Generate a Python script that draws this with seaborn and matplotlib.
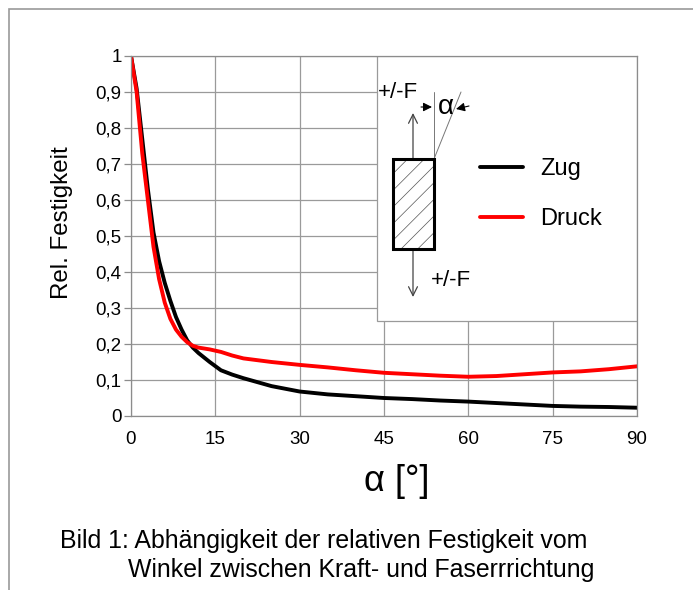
import numpy as np
import pandas as pd
import matplotlib
matplotlib.use("Agg")
import matplotlib.pyplot as plt
import seaborn as sns
from matplotlib.patches import Rectangle
from matplotlib.lines import Line2D

# ---- data ----
alpha_deg = [0, 1, 2, 3, 4, 5, 6, 7, 8, 9, 10, 11, 12, 14, 16, 18, 20, 25, 30,
             35, 40, 45, 50, 55, 60, 65, 70, 75, 80, 85, 90]
zug = [1.0, 0.91, 0.77, 0.63, 0.51, 0.43, 0.37, 0.32, 0.275, 0.24, 0.21, 0.19,
       0.175, 0.15, 0.127, 0.115, 0.105, 0.083, 0.068, 0.06, 0.055, 0.05, 0.047,
       0.043, 0.04, 0.036, 0.032, 0.028, 0.026, 0.025, 0.023]
druck = [1.0, 0.9, 0.73, 0.6, 0.47, 0.38, 0.315, 0.27, 0.24, 0.22, 0.205, 0.195,
         0.19, 0.185, 0.178, 0.168, 0.16, 0.15, 0.142, 0.135, 0.127, 0.12, 0.116,
         0.112, 0.109, 0.111, 0.116, 0.121, 0.124, 0.13, 0.138]
series_names = ["Zug", "Druck"]
x_ticks = [0, 15, 30, 45, 60, 75, 90]
y_ticks = [0, 0.1, 0.2, 0.3, 0.4, 0.5, 0.6, 0.7, 0.8, 0.9, 1.0]
y_tick_labels = ["0", "0,1", "0,2", "0,3", "0,4", "0,5", "0,6", "0,7", "0,8", "0,9", "1"]
x_label = "α [°]"
y_label = "Rel. Festigkeit"
caption_1 = "Bild 1: Abhängigkeit der relativen Festigkeit vom"
caption_2 = "Winkel zwischen Kraft- und Faserrrichtung"

sns.set_theme(style="white")
plt.rcParams["font.family"] = ["Liberation Sans", "DejaVu Sans"]
plt.rcParams["text.color"] = "black"
plt.rcParams["axes.labelcolor"] = "black"
plt.rcParams["hatch.linewidth"] = 0.5
plt.rcParams["hatch.color"] = "#555555"

W, H = 693, 590
fig = plt.figure(figsize=(W / 100, H / 100), dpi=100)
ax = fig.add_axes([131 / W, 1 - 416 / H, 506 / W, 360 / H])


def P(x, y):
    return (x / W, 1 - y / H)


n = len(alpha_deg)
df = pd.DataFrame({
    "alpha": alpha_deg * 2,
    "value": zug + druck,
    "Serie": ["Zug"] * n + ["Druck"] * n,
})
sns.lineplot(data=df, x="alpha", y="value", hue="Serie", hue_order=series_names,
             palette={"Zug": "black", "Druck": "#ff0000"}, linewidth=2.8,
             ax=ax, legend=False)

ax.set_xlim(0, 90)
ax.set_ylim(0, 1)
ax.set_xticks(x_ticks)
ax.set_xticklabels([str(t) for t in x_ticks])
ax.set_yticks(y_ticks)
ax.set_yticklabels(y_tick_labels)
ax.grid(True, color="#9a9a9a", lw=0.9)
ax.set_axisbelow(True)
for s in ax.spines.values():
    s.set_color("#8c8c8c")
    s.set_linewidth(0.9)
ax.tick_params(axis="y", length=5, width=0.9, color="#8c8c8c", pad=1.7,
               labelsize=13.5, labelcolor="black", left=True)
ax.tick_params(axis="x", length=0, pad=10.5, labelsize=13.5, labelcolor="black")

ax.set_xlabel(x_label, fontsize=26, color="black")
ax.set_ylabel(y_label, fontsize=17.4, color="black")
ax.xaxis.set_label_coords((397 - 131) / 506, (416 - 464) / 360)
ax.yaxis.set_label_coords((73 - 131) / 506, (416 - 223) / 360)

# inset box (white, covers grid in upper right)
ax.add_patch(Rectangle((43.8, 0.265), 46.2, 0.735, transform=ax.transData,
                       facecolor="white", edgecolor="#9a9a9a", lw=0.9, zorder=2.5))

# legend
handles = ax.get_lines()[:2]
leg = ax.legend(handles, series_names, loc="upper left",
                bbox_to_anchor=P(480, 158), bbox_transform=fig.transFigure,
                frameon=False, fontsize=17, handlelength=1.82, handletextpad=0.72,
                labelspacing=1.2, borderpad=0, borderaxespad=0)
leg.set_zorder(5)

# sketch of the specimen
fig.add_artist(Rectangle(P(393, 249), 41 / W, 90 / H, transform=fig.transFigure,
                         fill=False, hatch="//", edgecolor="#555555", lw=0, zorder=6))
fig.add_artist(Rectangle(P(393, 249), 41 / W, 90 / H, transform=fig.transFigure,
                         fill=False, edgecolor="black", lw=2.2, zorder=7))
arrow_kw = dict(arrowstyle="->", color="#444444", lw=0.9, shrinkA=0, shrinkB=0,
                mutation_scale=16)
ax.annotate("", xy=P(413, 113), xytext=P(413, 159), xycoords="figure fraction",
            textcoords="figure fraction", arrowprops=arrow_kw, zorder=6)
ax.annotate("", xy=P(413, 297), xytext=P(413, 249), xycoords="figure fraction",
            textcoords="figure fraction", arrowprops=arrow_kw, zorder=6)
fig.add_artist(Line2D([434 / W, 434 / W], [1 - 159 / H, 1 - 92 / H],
                      transform=fig.transFigure, color="#777777", lw=0.7, zorder=6))
fig.add_artist(Line2D([434 / W, 461 / W], [1 - 159 / H, 1 - 92 / H],
                      transform=fig.transFigure, color="#777777", lw=0.7, zorder=6))
head_kw = dict(arrowstyle="-|>", color="black", lw=0.8, shrinkA=0, shrinkB=0,
               mutation_scale=13)
ax.annotate("", xy=P(432, 107), xytext=P(421, 107), xycoords="figure fraction",
            textcoords="figure fraction", arrowprops=head_kw, zorder=6)
ax.annotate("", xy=P(456, 109), xytext=P(469, 106), xycoords="figure fraction",
            textcoords="figure fraction", arrowprops=head_kw, zorder=6)
fig.text(*P(446, 107), "α", fontsize=20, ha="center", va="center", zorder=8)
fig.text(*P(398, 92), "+/-F", fontsize=16, ha="center", va="center", zorder=8)
fig.text(*P(451, 281), "+/-F", fontsize=16, ha="center", va="center", zorder=8)

# caption
fig.text(*P(60, 548), caption_1, fontsize=17.9, ha="left", va="baseline")
fig.text(*P(128, 577), caption_2, fontsize=17.9, ha="left", va="baseline")

# page frame
fig.add_artist(Rectangle(P(9, 700), 2.0, (700 - 9) / H, transform=fig.transFigure,
                         fill=False, edgecolor="#999999", lw=1.2))

fig.savefig("out.png", dpi=100)
